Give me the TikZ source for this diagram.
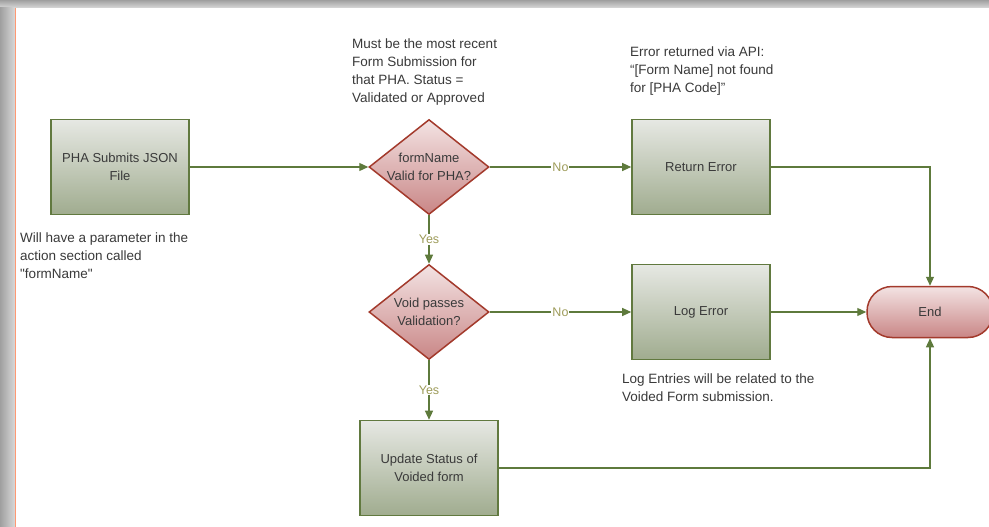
\documentclass[tikz,border=0pt]{standalone}
\usepackage{fontspec}
\setmainfont{Liberation Sans}
\usetikzlibrary{arrows.meta,shapes.geometric}
\definecolor{boxline}{HTML}{61793F}
\definecolor{boxtop}{HTML}{E6E8E3}
\definecolor{boxbot}{HTML}{A0AC8F}
\definecolor{decline}{HTML}{A33A2C}
\definecolor{dectop}{HTML}{F3E3E3}
\definecolor{decbot}{HTML}{C98686}
\definecolor{arrcol}{HTML}{5E7A3C}
\definecolor{lblcol}{HTML}{9E9C5A}
\definecolor{txtcol}{HTML}{3A3A3A}
\begin{document}
\begin{tikzpicture}[x=1pt,y=-1pt,
  procbox/.style={rectangle, draw=boxline, line width=1.6pt, top color=boxtop, bottom color=boxbot,
    minimum width=138pt, minimum height=95pt, align=center, text=txtcol,
    font=\fontsize{13}{18}\selectfont},
  decbox/.style={diamond, draw=decline, line width=1.5pt, top color=dectop, bottom color=decbot,
    minimum width=120pt, minimum height=95pt, inner sep=0pt},
  dectext/.style={align=center, text=txtcol, font=\fontsize{13}{18}\selectfont},
  endbox/.style={rectangle, rounded corners=25pt, draw=decline, line width=1.5pt, top color=dectop, bottom color=decbot,
    minimum width=126pt, minimum height=51pt, text=txtcol, font=\fontsize{13}{18}\selectfont},
  note/.style={align=left, anchor=north west, text=txtcol, inner sep=0pt,
    font=\fontsize{13.5}{17.7}\selectfont},
  arr/.style={draw=arrcol, line width=1.2pt, -{Triangle[width=8pt,length=9pt]}},
  lbl/.style={fill=white, inner sep=1pt, text=lblcol, font=\fontsize{12.5}{14}\selectfont}
]
\useasboundingbox (0,0) rectangle (989,527);
% page shadow and frame
\fill[gray!45] (0,0) rectangle (989,527);
\shade[top color=gray!75, bottom color=gray!30] (0,0) rectangle (989,8);
\shade[left color=gray!75, right color=gray!30] (0,8) rectangle (15,527);
\fill[white] (15,8) rectangle (989,527);
\draw[red!45!orange!55, line width=1pt] (15.5,8) -- (15.5,527);

% nodes
\node[procbox] (pha) at (120,167) {PHA Submits JSON\\File};
\node[decbox] (d1) at (429,167) {};
\node[dectext] (d1t) at (429,167) {formName\\Valid for PHA?};
\node[procbox] (ret) at (701,167) {Return Error};
\node[decbox] (d2) at (429,312) {};
\node[dectext] (d2t) at (429,312) {Void passes\\Validation?};
\node[procbox] (log) at (701,312) {Log Error};
\node[endbox] (end) at (930,312) {End};
\node[procbox] (upd) at (429,468) {Update Status of\\Voided form};

% notes
\node[note] (n1) at (352,39) {Must be the most recent\\Form Submission for\\that PHA. Status =\\Validated or Approved};
\node[note] (n2) at (630,47) {Error returned via API:\\``[Form Name] not found\\for [PHA Code]''};
\node[note] (n3) at (20,233) {Will have a parameter in the\\action section called\\\textquotedbl formName\textquotedbl};
\node[note] (n4) at (622,374) {Log Entries will be related to the\\Voided Form submission.};

% connectors
\draw[arr] (pha) -- (d1);
\draw[arr] (d1) -- node[lbl] {No} (ret);
\draw[arr] (d1) -- node[lbl] {Yes} (d2);
\draw[arr] (d2) -- node[lbl] {No} (log);
\draw[arr] (d2) -- node[lbl] {Yes} (upd);
\draw[arr] (log) -- (end);
\draw[arr] (ret.east) -| (end.north);
\draw[arr] (upd.east) -| (end.south);
\end{tikzpicture}
\end{document}
